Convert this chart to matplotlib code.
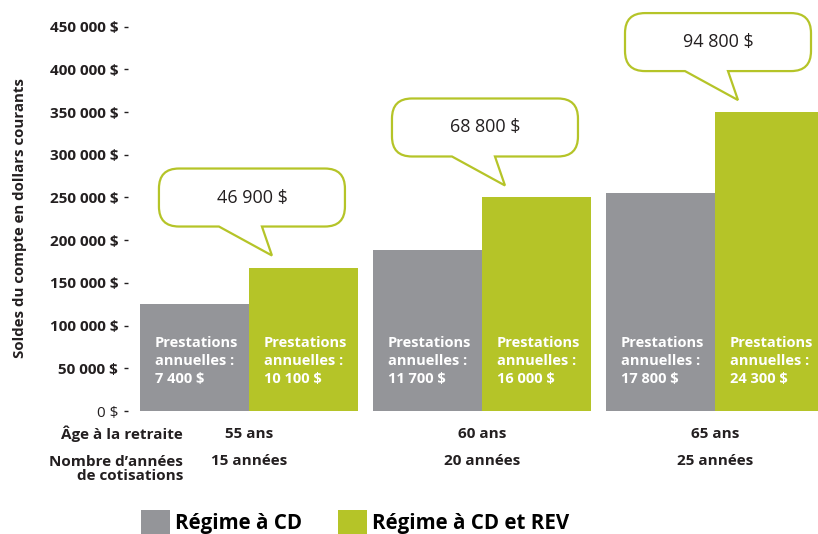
import matplotlib
matplotlib.use("Agg")
import matplotlib.pyplot as plt
import matplotlib.transforms as mtransforms
from matplotlib.path import Path
from matplotlib.patches import PathPatch, Patch

plt.rcParams['font.family'] = ['Open Sans', 'DejaVu Sans']

# data
ages = ["55 ans", "60 ans", "65 ans"]
years = ["15 années", "20 années", "25 années"]
balance_cd = [125000, 188000, 255000]
balance_rev = [168000, 250000, 350000]
benefit_cd = ["7 400 $", "11 700 $", "17 800 $"]
benefit_rev = ["10 100 $", "16 000 $", "24 300 $"]
extra = ["46 900 $", "68 800 $", "94 800 $"]
yticks = list(range(0, 450001, 50000))
ytick_labels = ["0 $"] + [f"{v // 1000} 000 $" for v in yticks[1:]]

GRAY = "#949599"
GREEN = "#b5c428"
DARK = "#231f20"

fig = plt.figure(figsize=(8.18, 5.34), dpi=100)
ax = fig.add_axes([128 / 818, 123 / 534, 690 / 818, 401.4 / 534])

x = list(range(len(ages)))
w = 0.468
ax.bar([i - w / 2 for i in x], balance_cd, width=w, color=GRAY, align="center")
ax.bar([i + w / 2 for i in x], balance_rev, width=w, color=GREEN, align="center")

ax.set_xlim(-0.519, 2.442)
ax.set_ylim(0, 470000)
ax.set_yticks(yticks)
ax.set_yticklabels(ytick_labels)
for i, lab in enumerate(ax.get_yticklabels()):
    lab.set_fontweight("normal" if i == 0 else "bold")
    lab.set_fontsize(11)
    lab.set_color(DARK)
ax.tick_params(axis="y", length=3, width=1, color=DARK, pad=4)
ax.set_xticks([])
for s in ax.spines.values():
    s.set_visible(False)

ax.set_ylabel("Soldes du compte en dollars courants", fontsize=10.8,
              fontweight="bold", color=DARK)
ax.yaxis.set_label_coords(-0.147, 0.481)

# text inside the bars
pad = 15 / 233
for i in x:
    ax.text(i - w + pad, 58500, "Prestations\nannuelles :\n" + benefit_cd[i],
            color="white", fontsize=10.5, fontweight="bold",
            va="center", ha="left", linespacing=1.38)
    ax.text(i + pad, 58500, "Prestations\nannuelles :\n" + benefit_rev[i],
            color="white", fontsize=10.5, fontweight="bold",
            va="center", ha="left", linespacing=1.38)

# speech-bubble callouts above the green bars (shape in pixels)
def bubble_path():
    L, R, B, T, r = -90, 96, 41, 99, 20
    verts = [(23, 12), (13, B), (R - r, B), (R, B), (R, B + r), (R, T - r),
             (R, T), (R - r, T), (L + r, T), (L, T), (L, T - r), (L, B + r),
             (L, B), (L + r, B), (-30, B), (23, 12)]
    codes = [Path.MOVETO, Path.LINETO, Path.LINETO, Path.CURVE3, Path.CURVE3,
             Path.LINETO, Path.CURVE3, Path.CURVE3, Path.LINETO, Path.CURVE3,
             Path.CURVE3, Path.LINETO, Path.CURVE3, Path.CURVE3, Path.LINETO,
             Path.CLOSEPOLY]
    return Path(verts, codes)

for i in x:
    tr = mtransforms.Affine2D() + mtransforms.ScaledTranslation(i, balance_rev[i], ax.transData)
    pp = PathPatch(bubble_path(), transform=tr, facecolor="white",
                   edgecolor=GREEN, lw=1.6, clip_on=False, zorder=3)
    ax.add_patch(pp)
    ax.text(3, 70, extra[i], transform=tr, ha="center", va="center",
            fontsize=13, color=DARK, zorder=4)

# rows below the axis
btr = mtransforms.blended_transform_factory(ax.transData, ax.transAxes)
row_x = -0.283
ax.text(row_x, -0.0573, "Âge à la retraite", transform=btr, ha="right",
        va="center", fontsize=11, fontweight="bold", color=DARK)
ax.text(row_x, -0.145, "Nombre d’années\nde cotisations", transform=btr,
        ha="right", va="center", fontsize=11, fontweight="bold",
        color=DARK, linespacing=1.05, multialignment="right")
for i in x:
    ax.text(i, -0.0573, ages[i], transform=btr, ha="center", va="center",
            fontsize=11, fontweight="bold", color=DARK)
    ax.text(i, -0.1245, years[i], transform=btr, ha="center", va="center",
            fontsize=11, fontweight="bold", color=DARK)

handles = [Patch(facecolor=GRAY), Patch(facecolor=GREEN)]
ax.legend(handles, ["Régime à CD", "Régime à CD et REV"], loc="center left",
          bbox_to_anchor=(141 / 818, 12 / 534), bbox_transform=fig.transFigure,
          ncol=2, frameon=False, prop=dict(weight="bold", size=14.8),
          handlelength=1.41, handleheight=1.41, handletextpad=0.24,
          columnspacing=1.75, borderpad=0, borderaxespad=0)

fig.savefig("out.png", dpi=100)
